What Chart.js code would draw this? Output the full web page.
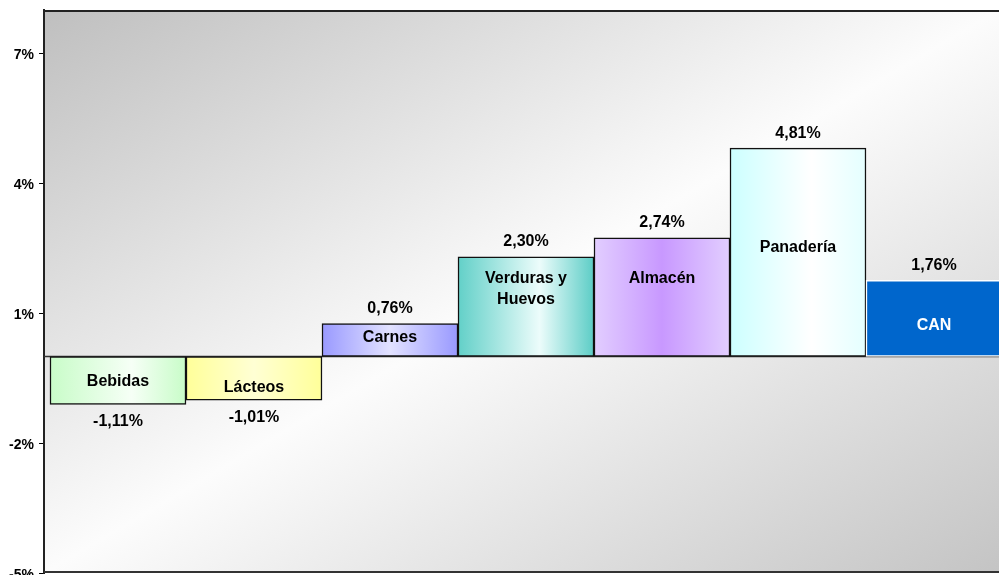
<!DOCTYPE html>
<html>
<head>
<meta charset="utf-8">
<script src="https://cdn.jsdelivr.net/npm/chart.js@4"></script>
<style>
  body { margin: 0; background: #fff; overflow: hidden; }
  #wrap { width: 999px; height: 575px; }
</style>
</head>
<body>
<div id="wrap"><canvas id="chart"></canvas></div>
<script>
// values
const categories = ['Bebidas', 'Lácteos', 'Carnes', ['Verduras y', 'Huevos'], 'Almacén', 'Panadería', 'CAN'];
const variation = [-1.11, -1.01, 0.76, 2.30, 2.74, 4.81, 1.76];
const yTicks = [-5, -2, 1, 4, 7];

// looks of each bar (horizontal gradient stops)
const barStops = [
  [[0, '#c8fcc8'], [0.6, '#f6fff6'], [1, '#c8fcc8']],
  [[0, '#ffff99'], [0.5, '#ffffd4'], [1, '#ffff99']],
  [[0, '#9999ff'], [0.5, '#e2e2ff'], [1, '#9999ff']],
  [[0, '#62d0c8'], [0.6, '#ecfcfb'], [1, '#5ccdc6']],
  [[0, '#e2ceff'], [0.5, '#c898ff'], [1, '#e2ceff']],
  [[0, '#ccffff'], [0.6, '#ffffff'], [1, '#e4ffff']],
  [[0, '#0066cc'], [1, '#0066cc']]
];
const barBorders = ['#111', '#111', '#111', '#111', '#111', '#111', '#ffffff'];
const nameColors = ['#000', '#000', '#000', '#000', '#000', '#000', '#ffffff'];
const nameShift = [1, 9, -2, -18, -19, -5, 7];

const FONT = 'Arial, "Liberation Sans", sans-serif';
Chart.defaults.font.family = FONT;

function fmt(v) {
  return v.toFixed(2).replace('.', ',') + '%';
}

function barFill(ctx) {
  const chart = ctx.chart;
  const i = ctx.dataIndex;
  if (!chart.chartArea || ctx.type !== 'data') return barStops[i][0][1];
  const xs = chart.scales.x;
  const cx = xs.getPixelForValue(i);
  const half = (xs.getPixelForValue(1) - xs.getPixelForValue(0)) / 2;
  const g = chart.ctx.createLinearGradient(cx - half, 0, cx + half, 0);
  barStops[i].forEach(s => g.addColorStop(s[0], s[1]));
  return g;
}

const plotDecor = {
  id: 'plotDecor',
  beforeDraw(chart) {
    const { ctx, chartArea: a } = chart;
    const w = a.right - a.left, h = a.bottom - a.top;
    const cx = a.left + w / 2, cy = a.top + h / 2;
    const len = Math.sqrt(w * w + h * h);
    const k = (w * h) / len / len;
    const g = ctx.createLinearGradient(cx - h * k, cy - w * k, cx + h * k, cy + w * k);
    g.addColorStop(0, '#bfbfbf');
    g.addColorStop(0.5, '#fcfcfc');
    g.addColorStop(1, '#c4c4c4');
    ctx.save();
    ctx.fillStyle = g;
    ctx.fillRect(a.left, a.top, w, h);
    ctx.restore();
  },
  beforeDatasetsDraw(chart) {
    const { ctx, chartArea: a, scales } = chart;
    const y0 = scales.y.getPixelForValue(0);
    ctx.save();
    ctx.strokeStyle = '#222';
    ctx.lineWidth = 2;
    ctx.beginPath();
    ctx.moveTo(a.left, a.top + 1);
    ctx.lineTo(a.right, a.top + 1);
    ctx.stroke();
    ctx.strokeStyle = '#333';
    ctx.beginPath();
    ctx.moveTo(a.left, a.bottom - 1);
    ctx.lineTo(a.right, a.bottom - 1);
    ctx.stroke();
    ctx.lineWidth = 1.5;
    ctx.beginPath();
    ctx.moveTo(a.left, y0);
    ctx.lineTo(a.right, y0);
    ctx.stroke();
    ctx.restore();
  },
  afterDatasetsDraw(chart) {
    const { ctx } = chart;
    const meta = chart.getDatasetMeta(0);
    ctx.save();
    ctx.font = 'bold 16px ' + FONT;
    ctx.textAlign = 'center';
    ctx.textBaseline = 'middle';
    meta.data.forEach((bar, i) => {
      const { x, y, base } = bar.getProps(['x', 'y', 'base'], true);
      const v = variation[i];
      ctx.fillStyle = '#000';
      ctx.fillText(fmt(v), x, v >= 0 ? y - 15 : y + 17);
      const lines = [].concat(categories[i]);
      const mid = (y + base) / 2 + nameShift[i];
      const lh = 21;
      ctx.fillStyle = nameColors[i];
      lines.forEach((t, j) => {
        ctx.fillText(t, x, mid + (j - (lines.length - 1) / 2) * lh);
      });
    });
    ctx.restore();
  }
};

new Chart(document.getElementById('chart'), {
  type: 'bar',
  data: {
    datasets: [{
      data: variation.map((v, i) => ({ x: i, y: v })),
      backgroundColor: barFill,
      borderColor: barBorders,
      borderWidth: 1.5,
      borderSkipped: false,
      barPercentage: 1,
      categoryPercentage: 1
    }]
  },
  options: {
    responsive: true,
    maintainAspectRatio: false,
    animation: false,
    layout: { padding: { top: 10, bottom: 2, left: 0, right: 0 } },
    plugins: { legend: { display: false }, tooltip: { enabled: false } },
    scales: {
      x: {
        type: 'linear',
        display: false,
        offset: false,
        min: -0.544,
        max: 6.478,
        afterBuildTicks: s => { s.ticks = variation.map((v, i) => ({ value: i })); }
      },
      y: {
        min: -5,
        max: 8,
        afterBuildTicks: s => { s.ticks = yTicks.map(v => ({ value: v })); },
        afterFit: s => { s.width = 44; s.paddingTop = 0; s.paddingBottom = 0; },
        ticks: {
          callback: v => v + '%',
          color: '#000',
          font: { size: 14, weight: 'bold' },
          padding: 5,
          labelOffset: 2
        },
        grid: { drawOnChartArea: false, tickLength: 5, color: '#000', lineWidth: 1 },
        border: { display: true, color: '#222', width: 2 }
      }
    }
  },
  plugins: [plotDecor]
});
</script>
</body>
</html>
